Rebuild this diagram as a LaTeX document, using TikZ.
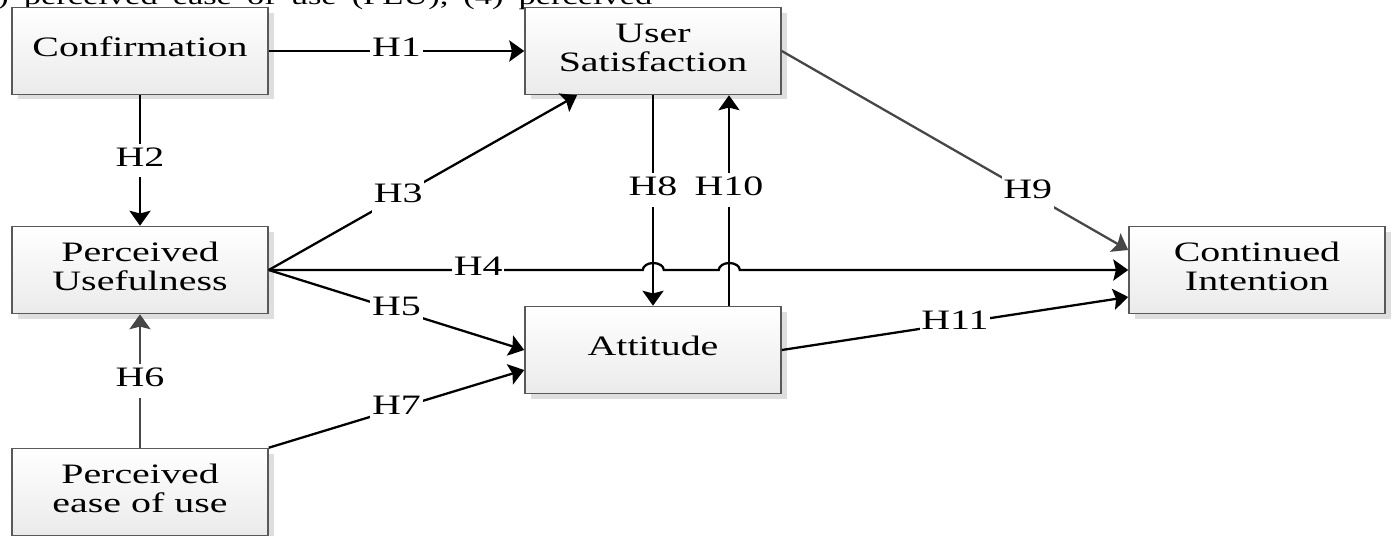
\documentclass[tikz,border=0pt]{standalone}
\usepackage{fontspec}
\setmainfont{Liberation Serif}
\usetikzlibrary{arrows.meta,shadows}

\newcommand{\widetext}[1]{\scalebox{1.42}[1]{\begin{tabular}{@{}c@{}}#1\end{tabular}}}

\tikzset{
  construct/.style={draw=black!65, line width=0.9pt, top color=white, bottom color=black!8,
    minimum width=5.12cm, minimum height=1.74cm, inner sep=0pt,
    drop shadow={shadow xshift=0.12cm, shadow yshift=-0.1cm, fill=black!13, opacity=1}},
  link/.style={line width=1.3pt, -{Stealth[length=8.5pt,width=12pt,inset=1.5pt]}},
  greylink/.style={link, draw=black!72},
  hyp/.style={fill=white, inner sep=1pt},
}

\begin{document}
\begin{tikzpicture}[x=0.02cm, y=0.02cm, font=\fontsize{16}{17}\selectfont]
    \path[use as bounding box] (0,0) rectangle (1392,-535);
    \clip (0,0) rectangle (1392,-535);
    % text line cut off above the figure
    \node [anchor=base west, inner sep=0pt, font=\fontsize{14}{16}\selectfont] (caption) at (-3,-4)
        {\scalebox{1.4}[1]{\makebox[9.36cm][s]{) perceived ease of use (PEU), (4) perceived}}};
    % constructs
    \node [construct] (conf) at (140,-51) {\widetext{Confirmation}};
    \node [construct] (sat) at (653,-51) {\widetext{User\\Satisfaction}};
    \node [construct] (useful) at (140,-270) {\widetext{Perceived\\Usefulness}};
    \node [construct] (att) at (653,-350) {\widetext{Attitude}};
    \node [construct] (ease) at (140,-492) {\widetext{Perceived\\ease of use}};
    \node [construct] (cont) at (1257,-270) {\widetext{Continued\\Intention}};
    % hypotheses
    \draw [link] (conf) -- node [hyp] {\widetext{H1}} (sat);
    \draw [link] (conf) -- node [hyp] {\widetext{H2}} (useful);
    \draw [link] (useful.east) -- node [hyp, pos=0.42] {\widetext{H3}} ([xshift=-1.52cm]sat.south);
    \draw [link] (useful.east) -- node [hyp, pos=0.56] {\widetext{H4}} ++(374,0)
        arc [start angle=180, end angle=0, x radius=10.5, y radius=7] -- ++(55,0)
        arc [start angle=180, end angle=0, x radius=10.5, y radius=7] -- (cont.west);
    \draw [link] (useful.east) -- node [hyp] {\widetext{H5}} (att.west);
    \draw [greylink] (ease) -- node [hyp] {\widetext{H6}} (useful);
    \draw [link] (ease.north east) -- node [hyp] {\widetext{H7}} ([yshift=-0.4cm]att.west);
    \draw [link] (sat.south) -- node [hyp, pos=0.45] {\widetext{H8}} (att.north);
    \draw [greylink] (sat.east) -- node [hyp, pos=0.71] {\widetext{H9}} ([yshift=0.4cm]cont.west);
    \draw [link] ([xshift=1.52cm]att.north) -- node [hyp, pos=0.55] {\widetext{H10}} ([xshift=1.52cm]sat.south);
    \draw [link] (att.east) -- node [hyp] {\widetext{H11}} ([yshift=-0.54cm]cont.west);
\end{tikzpicture}
\end{document}
